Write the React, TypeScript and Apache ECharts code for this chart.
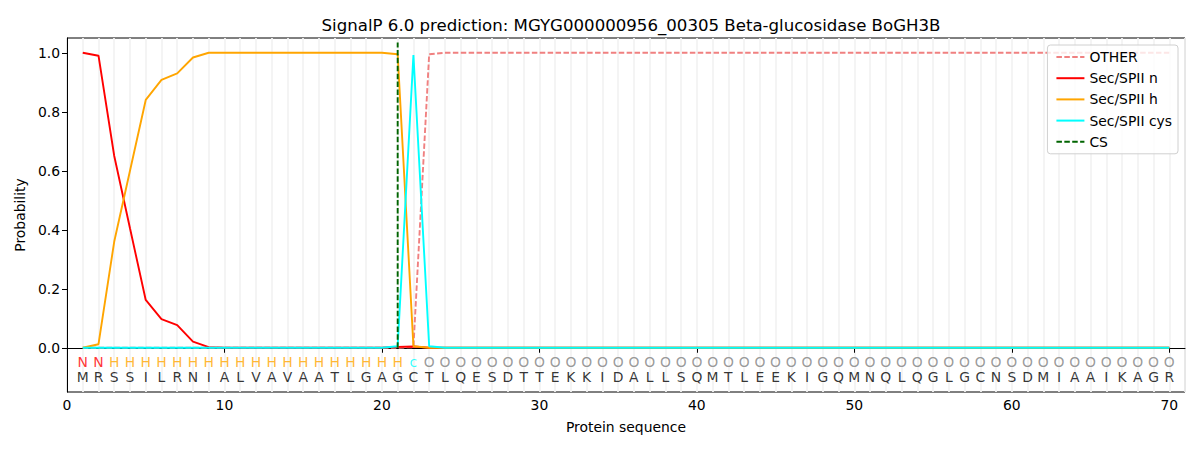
import React, { useEffect, useRef } from "react";
import * as echarts from "echarts";

const residues = "MRSSILRNIALVAVAATLGAGCTLQESDTTEKKIDALLSQMTLEEKIGQMNQLQGLGCNSDMIAAIKAGR".split("");
const classLabels = [
  "N", "N",
  "H", "H", "H", "H", "H", "H", "H", "H", "H", "H", "H", "H", "H", "H", "H", "H", "H", "H", "H",
  "c",
  ...Array(48).fill("O"),
];
const labelColors: Record<string, string> = { N: "#ff0000", H: "#ffa500", c: "#00ffff", O: "#808080" };

const otherProb = [
  0, 0, 0, 0, 0, 0, 0, 0, 0, 0, 0, 0, 0, 0, 0, 0, 0, 0, 0, 0, 0, 0.002, 0.995,
  ...Array(47).fill(1.0),
];
const nProb = [
  1.0, 0.99, 0.65, 0.405, 0.162, 0.097, 0.077, 0.021, 0.002, 0, 0, 0, 0, 0, 0, 0, 0, 0, 0, 0, 0.003, 0.004, 0,
  ...Array(47).fill(0),
];
const hProb = [
  0, 0.012, 0.36, 0.6, 0.84, 0.908, 0.93, 0.984, 1.0, 1.0, 1.0, 1.0, 1.0, 1.0, 1.0, 1.0, 1.0, 1.0, 1.0, 1.0, 0.995, 0.005, 0,
  ...Array(47).fill(0),
];
const cysProb = [
  0, 0, 0, 0, 0, 0, 0, 0, 0, 0, 0, 0, 0, 0, 0, 0, 0, 0, 0, 0, 0.005, 0.992, 0.005,
  ...Array(47).fill(0),
];
const csPosition = 21;
const yTicks = [0, 0.2, 0.4, 0.6, 0.8, 1.0];

const FONT = "DejaVu Sans";
const FS = 13.9;

export default function App() {
  const ref = useRef<HTMLDivElement>(null);
  useEffect(() => {
    if (!ref.current) return;
    const chart = echarts.init(ref.current, undefined, { renderer: "svg" });
    const pos = residues.map((_, i) => i + 1);
    const toData = (arr: number[]) => arr.map((v, i) => [pos[i], v]);
    const dash = [5.5, 2.4];
    const LW = 1.9;
    chart.setOption({
      animation: false,
      textStyle: { fontFamily: FONT },
      title: {
        text: "SignalP 6.0 prediction: MGYG000000956_00305 Beta-glucosidase BoGH3B",
        left: 626,
        textAlign: "center",
        top: 12,
        textStyle: { fontFamily: FONT, fontSize: 16.6, fontWeight: "normal", color: "#000" },
      },
      grid: {
        left: 67, right: 15, top: 38, bottom: 58,
        show: true, borderColor: "#000", borderWidth: 1, backgroundColor: "transparent",
      },
      legend: {
        data: ["OTHER", "Sec/SPII n", "Sec/SPII h", "Sec/SPII cys", "CS"],
        orient: "vertical",
        right: 22,
        top: 45,
        itemWidth: 28,
        itemHeight: 10,
        itemGap: 7.2,
        padding: [5, 6, 5, 8],
        borderColor: "#d0d0d0",
        borderWidth: 1,
        borderRadius: 3,
        backgroundColor: "rgba(255,255,255,0.8)",
        itemStyle: { opacity: 0 },
        textStyle: { fontFamily: FONT, fontSize: FS, color: "#000" },
      },
      xAxis: [
        {
          type: "value", min: 0, max: 71, interval: 10,
          name: "Protein sequence", nameLocation: "middle", nameGap: 28,
          nameTextStyle: { fontFamily: FONT, fontSize: FS, color: "#000" },
          axisLine: { show: true, lineStyle: { color: "#000" } },
          axisTick: { show: true, length: 5, lineStyle: { color: "#000" } },
          axisLabel: { fontFamily: FONT, fontSize: FS, color: "#000", margin: 6, showMaxLabel: false },
          splitLine: { show: false },
        },
        {
          type: "value", min: 0, max: 71, interval: 1, position: "bottom",
          axisLine: { show: false }, axisTick: { show: false }, axisLabel: { show: false },
          splitLine: { show: true, lineStyle: { color: "#f3f3f3", width: 1.8 } },
          z: 0,
        },
      ],
      yAxis: {
        type: "value", min: -0.15, max: 1.05,
        name: "Probability", nameLocation: "middle", nameGap: 40, nameRotate: 90,
        nameTextStyle: { fontFamily: FONT, fontSize: FS, color: "#000" },
        axisLine: { show: true, lineStyle: { color: "#000" } },
        axisTick: { show: true, length: 5, lineStyle: { color: "#000" }, customValues: yTicks },
        axisLabel: {
          fontFamily: FONT, fontSize: FS, color: "#000", margin: 7,
          customValues: yTicks,
          formatter: (v: number) => v.toFixed(1),
        },
        splitLine: { show: false },
      },
      series: [
        {
          name: "OTHER", type: "line", xAxisIndex: 0, data: toData(otherProb), symbol: "none",
          lineStyle: { color: "#f08080", width: LW, type: dash }, itemStyle: { color: "#f08080" }, z: 3,
        },
        {
          name: "Sec/SPII n", type: "line", data: toData(nProb), symbol: "none",
          lineStyle: { color: "#ff0000", width: LW }, itemStyle: { color: "#ff0000" }, z: 3,
        },
        {
          name: "Sec/SPII h", type: "line", data: toData(hProb), symbol: "none",
          lineStyle: { color: "#ffa500", width: LW }, itemStyle: { color: "#ffa500" }, z: 3,
        },
        {
          name: "Sec/SPII cys", type: "line", data: toData(cysProb), symbol: "none",
          lineStyle: { color: "#00ffff", width: LW }, itemStyle: { color: "#00ffff" }, z: 3,
        },
        {
          name: "CS", type: "line", data: [[csPosition, 0], [csPosition, 1.035]], symbol: "none",
          lineStyle: { color: "#006400", width: LW, type: dash }, itemStyle: { color: "#006400" }, z: 4,
        },
        {
          name: "classes", type: "scatter", symbolSize: 1, itemStyle: { color: "transparent" },
          data: classLabels.map((c, i) => ({
            value: [pos[i], -0.047],
            label: { show: true, position: "inside", formatter: c, color: labelColors[c], fontFamily: FONT, fontSize: FS },
          })),
          z: 5,
        },
        {
          name: "residues", type: "scatter", symbolSize: 1, itemStyle: { color: "transparent" },
          data: residues.map((r, i) => ({
            value: [pos[i], -0.098],
            label: { show: true, position: "inside", formatter: r, color: "#000", fontFamily: FONT, fontSize: FS },
          })),
          z: 5,
        },
      ],
    });
    return () => chart.dispose();
  }, []);
  return <div ref={ref} style={{ position: "absolute", left: 0, top: 0, width: 1200, height: 450 }} />;
}
